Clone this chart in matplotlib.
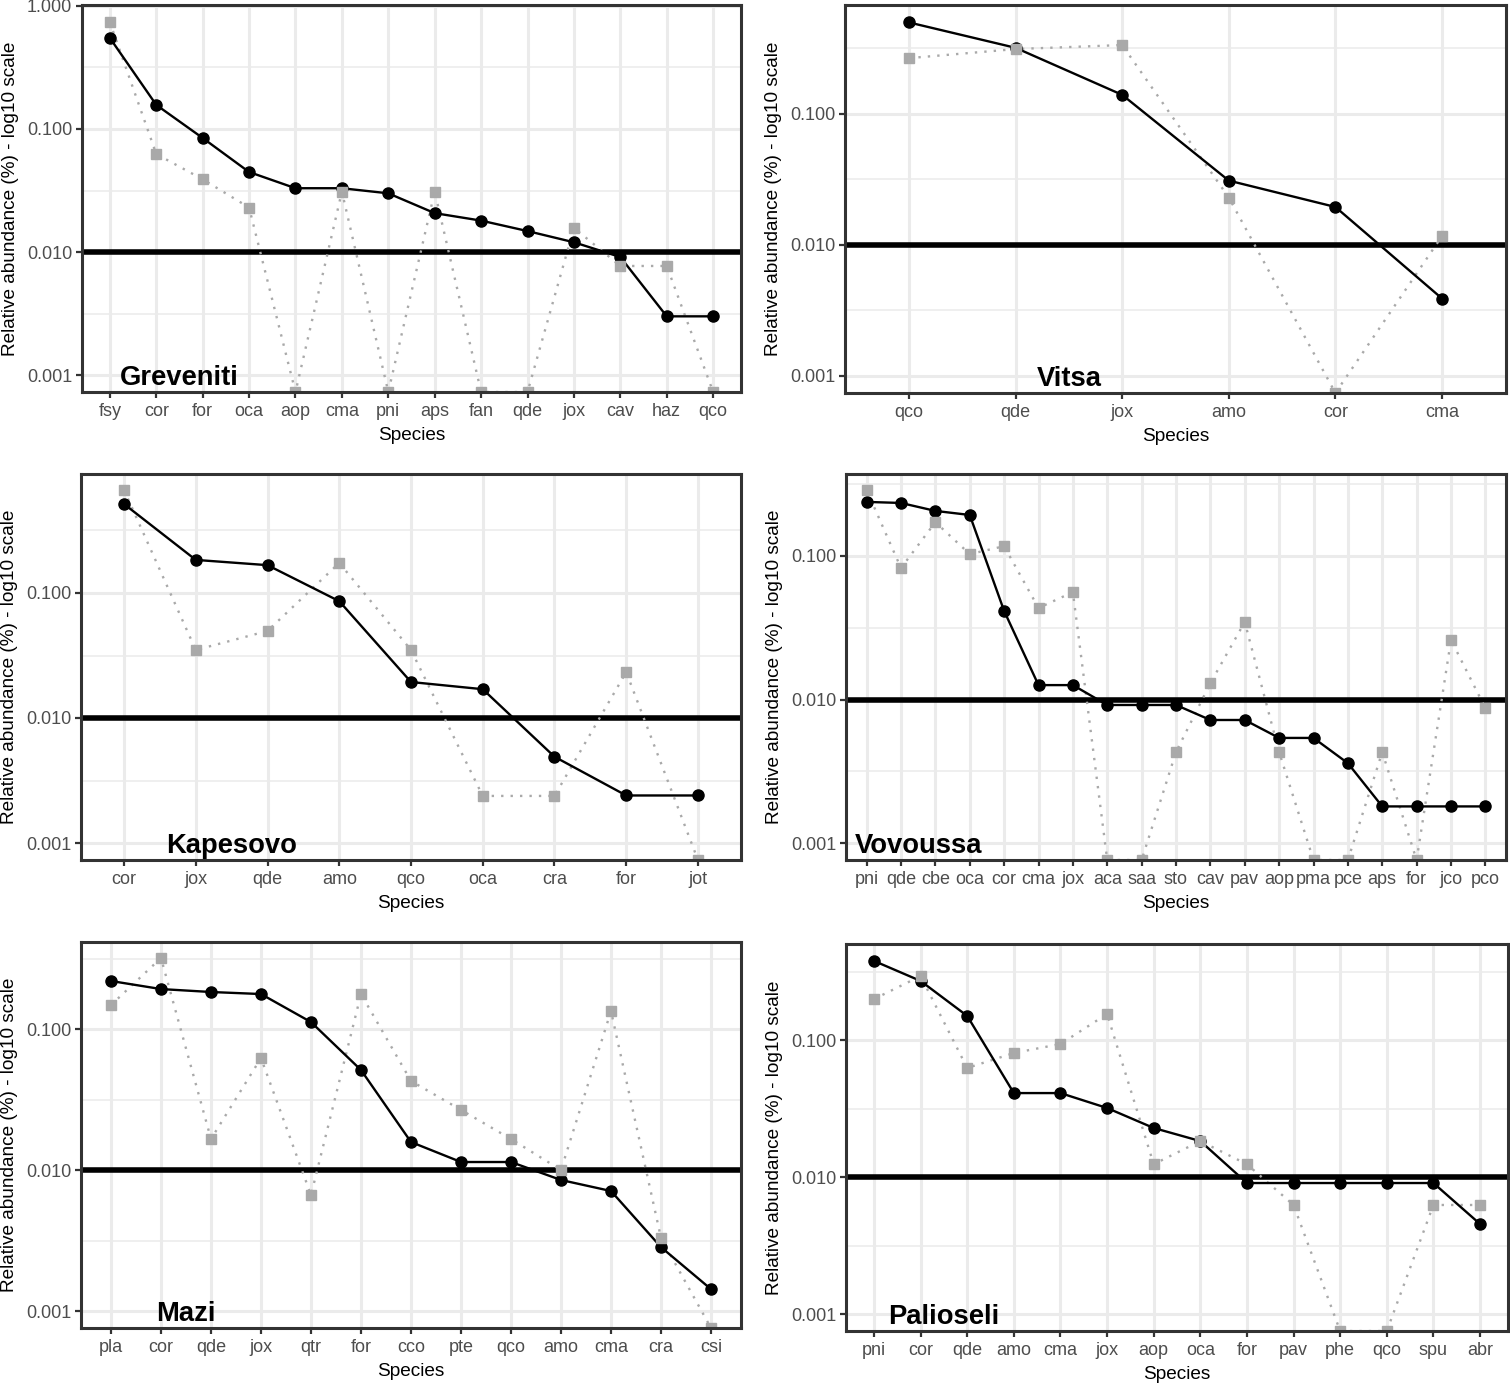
import numpy as np
import matplotlib
matplotlib.use("Agg")
import matplotlib.pyplot as plt

plt.rcParams["font.family"] = ["Liberation Sans", "DejaVu Sans"]

# relative abundance per site; two series per site (black = solid, gray = dotted), 0 = absent
greveniti_species = ["fsy", "cor", "for", "oca", "aop", "cma", "pni", "aps", "fan", "qde", "jox", "cav", "haz", "qco"]
greveniti_black = [0.55, 0.157, 0.0845, 0.0447, 0.033, 0.033, 0.030, 0.0207, 0.018, 0.0148, 0.012, 0.0091, 0.003, 0.003]
greveniti_gray = [0.74, 0.0626, 0.039, 0.023, 0, 0.031, 0, 0.031, 0, 0, 0.0157, 0.0077, 0.0077, 0]

vitsa_species = ["qco", "qde", "jox", "amo", "cor", "cma"]
vitsa_black = [0.50, 0.32, 0.14, 0.031, 0.0195, 0.0039]
vitsa_gray = [0.267, 0.313, 0.336, 0.023, 0, 0.0117]

kapesovo_species = ["cor", "jox", "qde", "amo", "qco", "oca", "cra", "for", "jot"]
kapesovo_black = [0.515, 0.184, 0.167, 0.086, 0.0194, 0.017, 0.0049, 0.0024, 0.0024]
kapesovo_gray = [0.667, 0.035, 0.0497, 0.174, 0.035, 0.00238, 0.00238, 0.0233, 0]

vovoussa_species = ["pni", "qde", "cbe", "oca", "cor", "cma", "jox", "aca", "saa", "sto",
                    "cav", "pav", "aop", "pma", "pce", "aps", "for", "jco", "pco"]
vovoussa_black = [0.238, 0.234, 0.206, 0.193, 0.0414, 0.0126, 0.0126, 0.00916, 0.00916, 0.00916,
                  0.0072, 0.0072, 0.0054, 0.0054, 0.0036, 0.0018, 0.0018, 0.0018, 0.0018]
vovoussa_gray = [0.288, 0.0824, 0.172, 0.103, 0.117, 0.0434, 0.056, 0, 0, 0.0043,
                 0.013, 0.0347, 0.0043, 0, 0, 0.0043, 0, 0.026, 0.0087]

mazi_species = ["pla", "cor", "qde", "jox", "qtr", "for", "cco", "pte", "qco", "amo", "cma", "cra", "csi"]
mazi_black = [0.219, 0.192, 0.183, 0.177, 0.112, 0.0512, 0.0158, 0.0114, 0.0114, 0.0085, 0.0071, 0.00284, 0.00143]
mazi_gray = [0.148, 0.319, 0.0166, 0.0623, 0.00665, 0.177, 0.0428, 0.0267, 0.0166, 0.010, 0.134, 0.0033, 0]

palioseli_species = ["pni", "cor", "qde", "amo", "cma", "jox", "aop", "oca", "for", "pav", "phe", "qco", "spu", "abr"]
palioseli_black = [0.378, 0.27, 0.15, 0.041, 0.041, 0.0319, 0.0228, 0.0183, 0.00904, 0.00904, 0.00904, 0.00904, 0.00904, 0.00454]
palioseli_gray = [0.199, 0.293, 0.0625, 0.0804, 0.0935, 0.155, 0.0124, 0.0183, 0.0124, 0.00625, 0, 0, 0.00625, 0.00625]

sites = ["Greveniti", "Vitsa", "Kapesovo", "Vovoussa", "Mazi", "Palioseli"]
species = [greveniti_species, vitsa_species, kapesovo_species, vovoussa_species, mazi_species, palioseli_species]
black_series = [greveniti_black, vitsa_black, kapesovo_black, vovoussa_black, mazi_black, palioseli_black]
gray_series = [greveniti_gray, vitsa_gray, kapesovo_gray, vovoussa_gray, mazi_gray, palioseli_gray]

THRESHOLD = 0.01

# layout in pixels: left, top, right, bottom
W, H = 1510, 1384
boxes = [(82, 5, 741, 392), (845, 5, 1506, 393),
         (81, 474, 741, 860), (846, 474, 1506, 860),
         (81, 942, 741, 1328), (846, 944, 1508, 1331)]
ylog_lims = [(-3.138, 0.008), (-3.13, -0.168), (-3.136, -0.048),
             (-3.118, -0.429), (-3.12, -0.383), (-3.124, -0.299)]

GRID = "#EBEBEB"
BORDER = "#333333"
TICKTXT = "#4D4D4D"
GRAY = "#A9A9A9"

fig = plt.figure(figsize=(W / 100, H / 100), dpi=100)

for i, site in enumerate(sites):
    l, t, r, b = boxes[i]
    ax = fig.add_axes([l / W, 1 - b / H, (r - l) / W, (b - t) / H])
    ax.set_yscale("log")
    lo, hi = 10 ** ylog_lims[i][0], 10 ** ylog_lims[i][1]
    n = len(species[i])
    x = np.arange(n)

    ax.set_xlim(-0.6, n - 1 + 0.6)
    ax.set_ylim(lo, hi)

    # grid
    major = [v for v in [0.001, 0.01, 0.1, 1.0] if lo <= v <= hi]
    minor = [v for v in [10 ** -2.5, 10 ** -1.5, 10 ** -0.5] if lo <= v <= hi]
    for v in major:
        ax.axhline(v, color=GRID, lw=2.2, zorder=0)
    for v in minor:
        ax.axhline(v, color=GRID, lw=1.1, zorder=0)
    for xi in x:
        ax.axvline(xi, color=GRID, lw=2.2, zorder=0)

    ax.axhline(THRESHOLD, color="black", lw=4, zorder=1)

    blk = np.array(black_series[i], dtype=float)
    gry = np.array(gray_series[i], dtype=float)
    gry_plot = np.where(gry > 0, gry, lo)  # absent species drawn at the panel floor

    ax.plot(x, blk, color="black", lw=1.7, marker="o", ms=8, zorder=3)
    ax.plot(x, gry_plot, color=GRAY, lw=1.7, ls=(0, (1, 3)), zorder=2)
    ax.plot(x, gry_plot, ls="none", marker="s", ms=7.5, color=GRAY, zorder=4)

    ax.set_yticks(major)
    ax.set_yticks([], minor=True)
    ax.set_yticklabels(["%.3f" % v for v in major])
    ax.set_xticks(x)
    ax.set_xticklabels(species[i])
    ax.tick_params(axis="both", which="major", length=4, width=1.6, color=BORDER,
                   labelcolor=TICKTXT, labelsize=13, pad=3)
    ax.tick_params(axis="x", pad=4)
    ax.tick_params(axis="y", which="minor", length=0)

    for s in ax.spines.values():
        s.set_color(BORDER)
        s.set_linewidth(2.2)
        s.set_zorder(6)

    ax.set_xlabel("Species", fontsize=13.7, labelpad=5)
    ax.set_ylabel("Relative abundance (%) - log10 scale", fontsize=13.7, labelpad=6)

    ax.annotate(site, (1.5, 0.001), xytext=(0, -2), textcoords="offset points",
                fontsize=19.7, fontweight="bold", ha="center", va="center", zorder=7)

fig.savefig("out.png", dpi=100)
